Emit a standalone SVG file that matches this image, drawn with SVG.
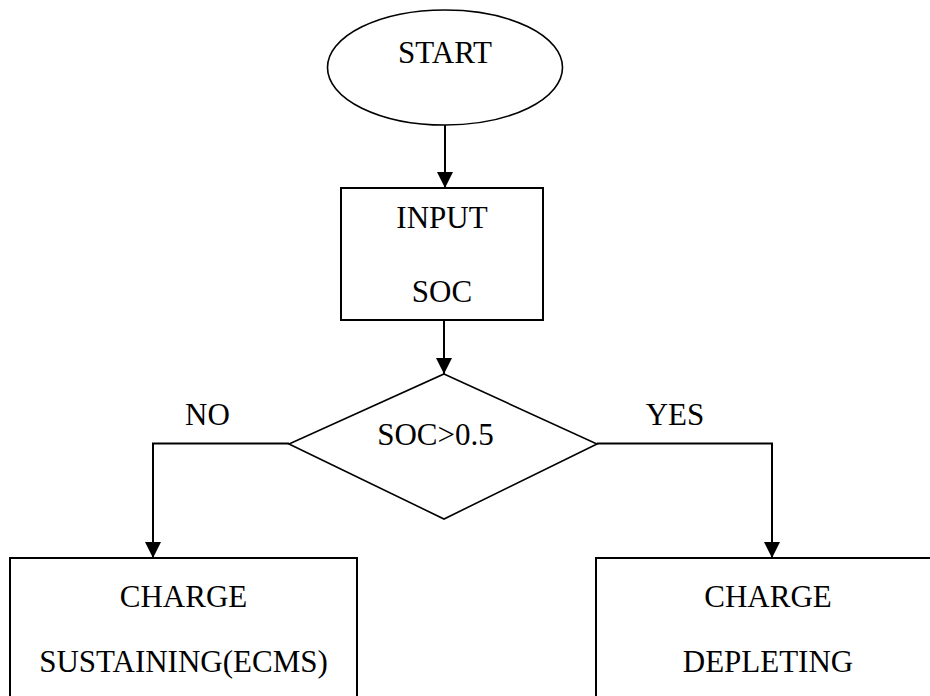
<svg xmlns="http://www.w3.org/2000/svg" width="930" height="696" viewBox="0 0 930 696">
<style>
.shape{fill:#fff;stroke:#000;stroke-width:2}
.thin{fill:#fff;stroke:#000;stroke-width:1.6}
.conn{fill:none;stroke:#000;stroke-width:2}
text{font-family:"Liberation Serif","Times New Roman",serif;font-size:31px;fill:#000;text-anchor:middle}
</style>
<defs>
<marker id="arr" markerUnits="userSpaceOnUse" markerWidth="18" markerHeight="18" viewBox="0 0 18 18" refX="16" refY="9" orient="auto">
<path d="M0,1 L16,9 L0,17 Z" fill="#000"/>
</marker>
</defs>
<g id="start">
<ellipse class="thin" cx="445" cy="67.5" rx="117.5" ry="57.5"/>
<text x="445" y="63">START</text>
</g>
<g id="input">
<rect class="shape" x="341" y="188" width="202" height="132"/>
<text x="442" y="228">INPUT</text>
<text x="442" y="302">SOC</text>
</g>
<g id="decision">
<polygon class="thin" points="444,374 597,444 444,519 289,444"/>
<text x="435.5" y="445">SOC&gt;0.5</text>
</g>
<g id="sustaining">
<rect class="shape" x="10" y="558" width="347" height="150"/>
<text x="183.5" y="607">CHARGE</text>
<text x="183.5" y="672">SUSTAINING(ECMS)</text>
</g>
<g id="depleting">
<rect class="shape" x="596" y="558" width="344" height="150"/>
<text x="768" y="607">CHARGE</text>
<text x="768" y="672">DEPLETING</text>
</g>
<g id="connectors">
<path class="conn" d="M445,125 L445,188" marker-end="url(#arr)"/>
<path class="conn" d="M444,320 L444,374" marker-end="url(#arr)"/>
<path class="conn" d="M289,443.5 L153,443.5 L153,558" marker-end="url(#arr)"/>
<path class="conn" d="M597,443.5 L772,443.5 L772,558" marker-end="url(#arr)"/>
<text x="207.5" y="425">NO</text>
<text x="675" y="425">YES</text>
</g>
</svg>
